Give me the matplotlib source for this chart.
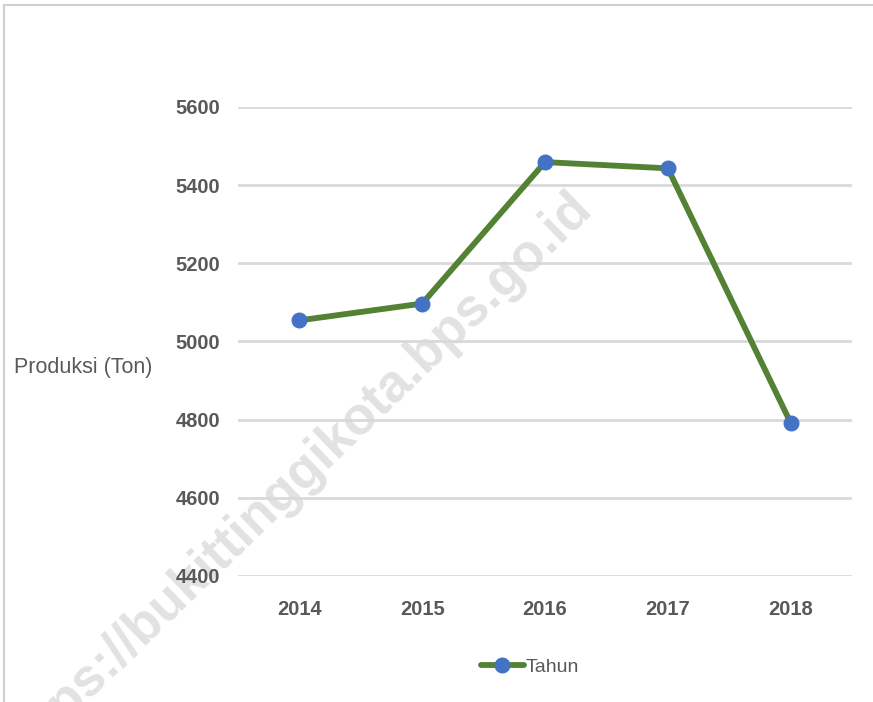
import matplotlib.pyplot as plt
from matplotlib.patches import Rectangle

years = ["2014", "2015", "2016", "2017", "2018"]
produksi = [5054, 5097, 5459, 5443, 4792]
y_ticks = [4400, 4600, 4800, 5000, 5200, 5400, 5600]

GREEN = "#548235"
BLUE = "#4472C4"
GRAY = "#595959"

fig = plt.figure(figsize=(8.73, 7.02), dpi=100)
ax = fig.add_axes([0.2726, 0.1795, 0.7034, 0.6681])
ax.patch.set_visible(False)

# watermark behind the chart
fig.text(0.338, 0.318, "https://bukittinggikota.bps.go.id", rotation=44,
         fontsize=38, fontweight="bold", color="#e2e2e2",
         ha="center", va="center", zorder=-1, family="Liberation Sans")

x = list(range(len(years)))
ax.plot(x, produksi, color=GREEN, lw=4.2, marker="o", ms=10.5,
        markerfacecolor=BLUE, markeredgecolor=BLUE, label="Tahun",
        solid_capstyle="round", zorder=3)

ax.set_xlim(-0.5, len(years) - 0.5)
ax.set_ylim(4400, 5600)
ax.set_yticks(y_ticks)
ax.set_xticks(x)
ax.set_xticklabels(years)
ax.grid(axis="y", color="#d9d9d9", lw=2)
ax.set_axisbelow(True)
for s in ax.spines.values():
    s.set_visible(False)
ax.tick_params(length=0, labelsize=14.5, labelcolor=GRAY)
for lab in ax.get_xticklabels() + ax.get_yticklabels():
    lab.set_fontfamily("Liberation Sans")
    lab.set_fontweight("bold")
ax.tick_params(axis="x", pad=17)
ax.tick_params(axis="y", pad=13)

fig.text(0.016, 0.477, "Produksi (Ton)", fontsize=15.5, color=GRAY,
         ha="left", va="center", family="Liberation Sans")

leg = fig.legend(loc="center", bbox_to_anchor=(0.607, 0.05), frameon=False,
                 handlelength=2.2, handletextpad=0.1,
                 prop={"family": "Liberation Sans", "size": 14})
for t in leg.get_texts():
    t.set_color(GRAY)

fig.patches.append(Rectangle((0.005, -0.1), 1.1, 1.093, transform=fig.transFigure,
                             fill=False, edgecolor="#d0d0d0", lw=1.5))

fig.savefig("out.png", dpi=100)
